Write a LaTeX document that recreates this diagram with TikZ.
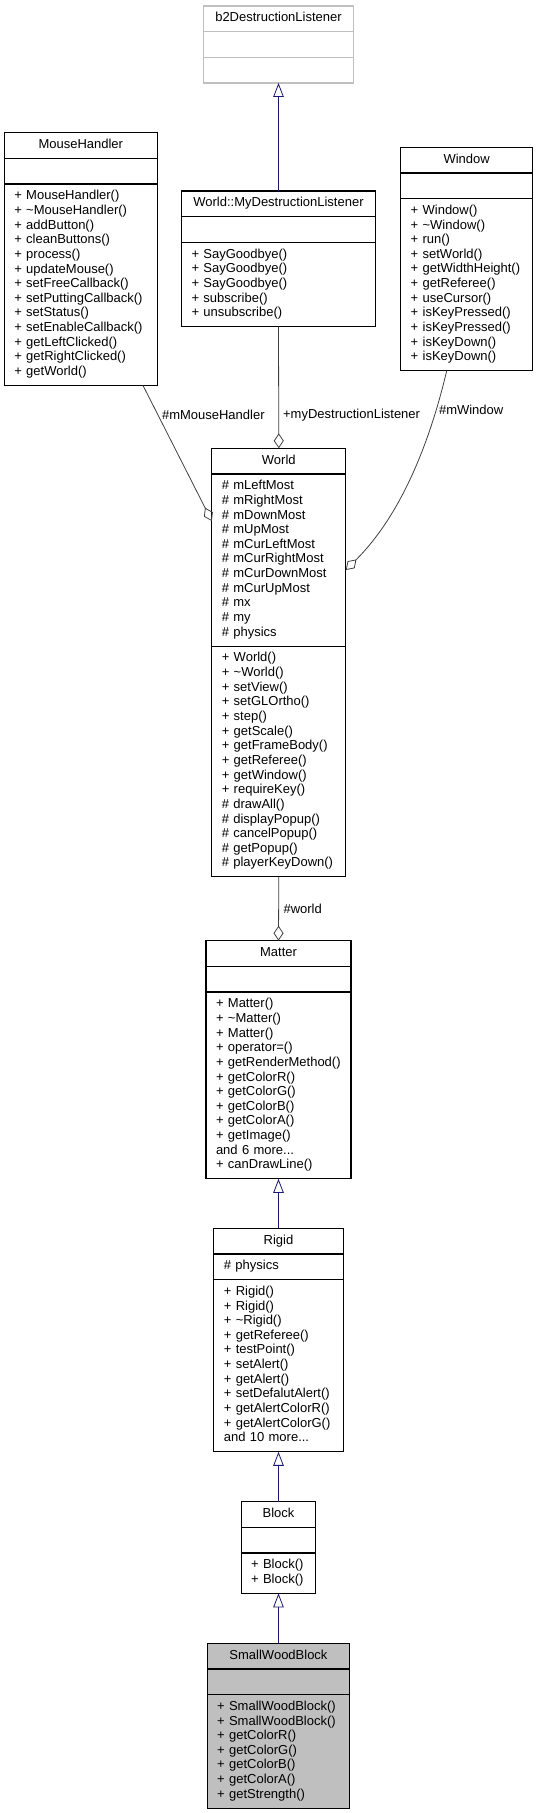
\documentclass[tikz,border=0pt]{standalone}
\usepackage{fontspec}
\setmainfont{Liberation Sans}
\usetikzlibrary{arrows.meta,positioning}
\definecolor{navy}{HTML}{191970}
\definecolor{edgegray}{HTML}{404040}
\definecolor{grey75}{HTML}{BFBFBF}
\newcommand{\umlfont}{\fontsize{13}{14.65}\selectfont\hyphenpenalty=10000 }

\tikzset{
  compart/.style={draw, line width=1.1pt, outer sep=0pt, inner xsep=10pt, inner ysep=5.5pt,
    text width=#1, align=left, font=\umlfont,
    execute at begin node=\strut, execute at end node=\strut},
  classname/.style={compart=#1, align=center, anchor=north},
  inherit/.style={draw=navy, line width=.8pt, -{Triangle[open, length=14pt, width=10.5pt]}},
  aggr/.style={draw=edgegray, line width=.8pt, -{Diamond[open, length=15pt, width=10pt]}},
  role/.style={font=\umlfont, inner sep=1pt, anchor=west},
}

\begin{document}
\begin{tikzpicture}[x=1pt, y=-1pt]
\useasboundingbox (0,0) rectangle (538,1813);

% base class from Box2D
\node[classname=130pt, draw=grey75] (b2) at (278.5,6) {b2DestructionListener};
\node[compart=130pt, draw=grey75, below=0pt of b2] (b2-a) {};
\node[compart=130pt, draw=grey75, below=0pt of b2-a] (b2-m) {};

% top row
\node[classname=133pt] (mouse) at (80.8,132.7) {MouseHandler};
\node[compart=133pt, below=0pt of mouse] (mouse-a) {};
\node[compart=133pt, below=0pt of mouse-a] (mouse-m) {+ MouseHandler()\\+ \textasciitilde MouseHandler()\\+ addButton()\\+ cleanButtons()\\+ process()\\+ updateMouse()\\+ setFreeCallback()\\+ setPuttingCallback()\\+ setStatus()\\+ setEnableCallback()\\+ getLeftClicked()\\+ getRightClicked()\\+ getWorld()};

\node[classname=174pt] (listener) at (278.5,191) {World::MyDestructionListener};
\node[compart=174pt, below=0pt of listener] (listener-a) {};
\node[compart=174pt, below=0pt of listener-a] (listener-m) {+ SayGoodbye()\\+ SayGoodbye()\\+ SayGoodbye()\\+ subscribe()\\+ unsubscribe()};

\node[classname=112pt] (win) at (466.7,147.3) {Window};
\node[compart=112pt, below=0pt of win] (win-a) {};
\node[compart=112pt, below=0pt of win-a] (win-m) {+ Window()\\+ \textasciitilde Window()\\+ run()\\+ setWorld()\\+ getWidthHeight()\\+ getReferee()\\+ useCursor()\\+ isKeyPressed()\\+ isKeyPressed()\\+ isKeyDown()\\+ isKeyDown()};

% World
\node[classname=114pt] (world) at (278.8,448.3) {World};
\node[compart=114pt, below=0pt of world] (world-a) {\# mLeftMost\\\# mRightMost\\\# mDownMost\\\# mUpMost\\\# mCurLeftMost\\\# mCurRightMost\\\# mCurDownMost\\\# mCurUpMost\\\# mx\\\# my\\\# physics};
\node[compart=114pt, below=0pt of world-a] (world-m) {+ World()\\+ \textasciitilde World()\\+ setView()\\+ setGLOrtho()\\+ step()\\+ getScale()\\+ getFrameBody()\\+ getReferee()\\+ getWindow()\\+ requireKey()\\\# drawAll()\\\# displayPopup()\\\# cancelPopup()\\\# getPopup()\\\# playerKeyDown()};

% inheritance chain
\node[classname=125pt] (matter) at (278.5,940.7) {Matter};
\node[compart=125pt, below=0pt of matter] (matter-a) {};
\node[compart=125pt, below=0pt of matter-a] (matter-m) {+ Matter()\\+ \textasciitilde Matter()\\+ Matter()\\+ operator=()\\+ getRenderMethod()\\+ getColorR()\\+ getColorG()\\+ getColorB()\\+ getColorA()\\+ getImage()\\and 6 more...\\+ canDrawLine()};

\node[classname=109.3pt] (rigid) at (278.5,1228.3) {Rigid};
\node[compart=109.3pt, below=0pt of rigid] (rigid-a) {\# physics};
\node[compart=109.3pt, below=0pt of rigid-a] (rigid-m) {+ Rigid()\\+ Rigid()\\+ \textasciitilde Rigid()\\+ getReferee()\\+ testPoint()\\+ setAlert()\\+ getAlert()\\+ setDefalutAlert()\\+ getAlertColorR()\\+ getAlertColorG()\\and 10 more...};

\node[classname=54.7pt] (block) at (278.5,1501.7) {Block};
\node[compart=54.7pt, below=0pt of block] (block-a) {};
\node[compart=54.7pt, below=0pt of block-a] (block-m) {+ Block()\\+ Block()};

\node[classname=122.7pt, fill=grey75] (wood) at (278.5,1643.3) {SmallWoodBlock};
\node[compart=122.7pt, fill=grey75, below=0pt of wood] (wood-a) {};
\node[compart=122.7pt, fill=grey75, below=0pt of wood-a] (wood-m) {+ SmallWoodBlock()\\+ SmallWoodBlock()\\+ getColorR()\\+ getColorG()\\+ getColorB()\\+ getColorA()\\+ getStrength()};

% connectors
\draw[inherit] (listener.north) -- (b2-m.south);
\draw[aggr] ([xshift=-14.3pt]mouse-m.south east) -- node[role, pos=.22, xshift=2.5pt] {\#mMouseHandler} ([yshift=39pt]world-a.west);
\draw[aggr] (listener-m.south) -- node[role, pos=.73, xshift=3pt] {+myDestructionListener} (world.north);
\draw[aggr] ([xshift=-20pt]win-m.south) .. controls (428,450) and (398,518) .. node[role, pos=.17, xshift=1.5pt] {\#mWindow} ([yshift=-10pt]world-a.east);
\draw[aggr] (world-m.south) -- node[role, pos=.5, xshift=3.5pt] {\#world} (matter.north);
\draw[inherit] (rigid.north) -- (matter-m.south);
\draw[inherit] (block.north) -- (rigid-m.south);
\draw[inherit] (wood.north) -- (block-m.south);
\end{tikzpicture}
\end{document}
